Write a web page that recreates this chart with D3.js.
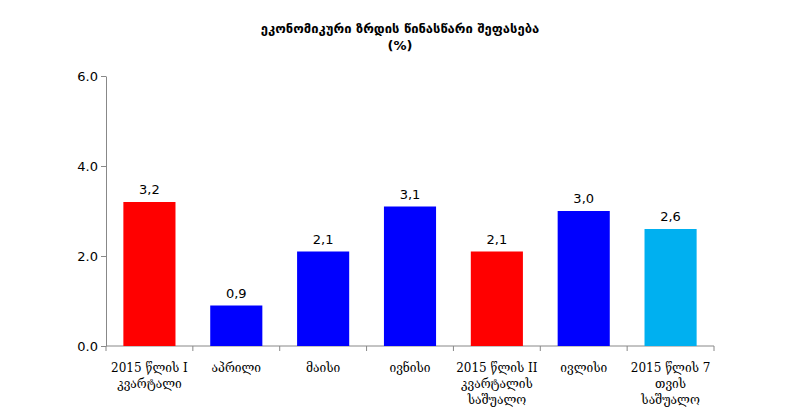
<!DOCTYPE html><html><head><meta charset="utf-8"><script src="https://cdn.jsdelivr.net/npm/d3@7"></script>
<style>body{margin:0;background:#fff}text{font-family:"DejaVu Serif","DejaVu Sans",serif}</style></head><body><svg width="800" height="420"></svg><script>
const categories=[["2015 წლის I","კვარტალი"],["აპრილი"],["მაისი"],["ივნისი"],["2015 წლის II","კვარტალის","საშუალო"],["ივლისი"],["2015 წლის 7","თვის","საშუალო"]];
const values=[3.2,0.9,2.1,3.1,2.1,3.0,2.6];
const labels=["3,2","0,9","2,1","3,1","2,1","3,0","2,6"];
const colors=["#ff0000","#0000ff","#0000ff","#0000ff","#ff0000","#0000ff","#00b0f0"];
const yTicks=[0,2,4,6];
const svg=d3.select("svg");
const x=d3.scaleBand().domain(d3.range(categories.length)).range([106,714]).paddingInner(0.4).paddingOuter(0.2);
const y=d3.scaleLinear().domain([0,6]).range([346,76]);
svg.append("text").attr("x",400).attr("y",33).attr("text-anchor","middle").style("font-family","DejaVu Sans").style("font-weight","bold").style("font-size","13px").text("ეკონომიკური ზრდის წინასწარი შეფასება");
svg.append("text").attr("x",400).attr("y",50).attr("text-anchor","middle").style("font-family","DejaVu Sans").style("font-weight","bold").style("font-size","13px").text("(%)");
const ya=svg.append("g").attr("transform","translate(106,0)").call(d3.axisLeft(y).tickValues(yTicks).tickSize(5).tickSizeOuter(0));
ya.selectAll("text").style("font-size","13px").style("font-family","DejaVu Sans");
ya.selectAll("line,path").attr("stroke","#888");
const step=x.step();
const xa=svg.append("g");
xa.append("line").attr("x1",106).attr("x2",714).attr("y1",346).attr("y2",346).attr("stroke","#888");
d3.range(categories.length+1).forEach(i=>{const xx=106+i*(608/categories.length);xa.append("line").attr("x1",xx).attr("x2",xx).attr("y1",346).attr("y2",351).attr("stroke","#888");});
const w=608/categories.length;
svg.selectAll("rect.b").data(values).join("rect").attr("x",(d,i)=>106+w*i+w*0.2).attr("width",w*0.6).attr("y",d=>y(d)).attr("height",d=>y(0)-y(d)).attr("fill",(d,i)=>colors[i]);
svg.selectAll("text.v").data(values).join("text").attr("x",(d,i)=>106+w*(i+0.5)).attr("y",d=>y(d)-8).attr("text-anchor","middle").style("font-size","13px").style("font-family","DejaVu Sans").text((d,i)=>labels[i]);
categories.forEach((c,i)=>{const t=svg.append("text").attr("x",106+w*(i+0.5)).attr("y",372).attr("text-anchor","middle").style("font-size","12px");c.forEach((l,j)=>t.append("tspan").attr("x",106+w*(i+0.5)).attr("dy",j?16:0).text(l));});
</script></body></html>
